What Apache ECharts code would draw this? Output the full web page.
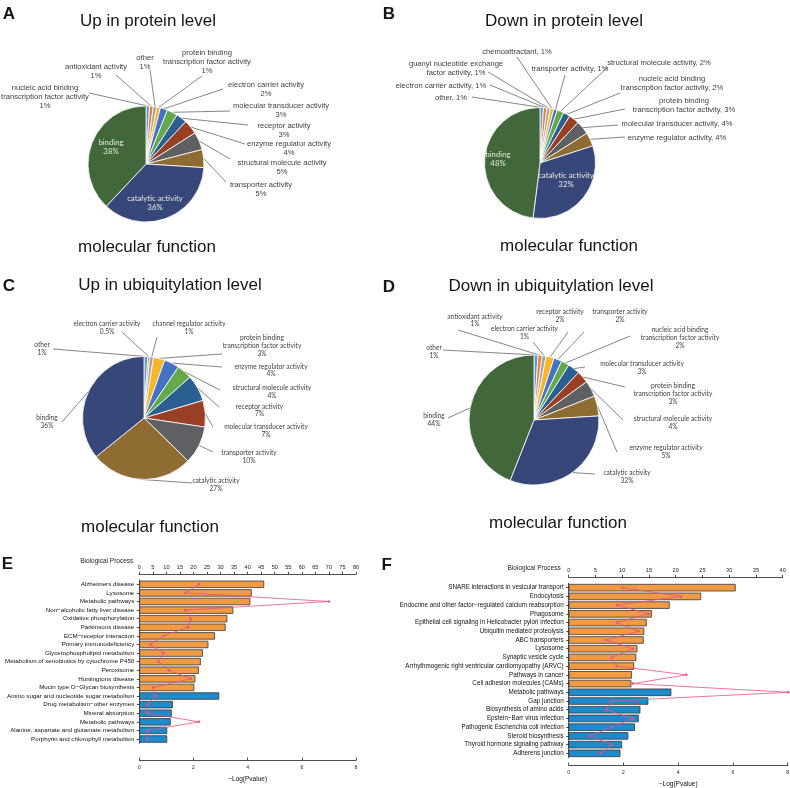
<!DOCTYPE html>
<html><head><meta charset="utf-8">
<script src="https://cdn.jsdelivr.net/npm/echarts@6/dist/echarts.min.js"></script>
<style>html,body{margin:0;padding:0;background:#fff}#c{width:790px;height:788px}</style>
</head><body><div id="c"></div>
<script>
const SANS = 'Liberation Sans, Arial, sans-serif';
const CAL = 'Lato, Carlito, sans-serif';

// ---------- Panel A: Up in protein level ----------
const namesA = ['nucleic acid binding\ntranscription factor activity','antioxidant activity','other','protein binding\ntranscription factor activity','electron carrier activity','molecular transducer activity','receptor activity','enzyme regulator activity','structural molecule activity','transporter activity','catalytic activity','binding'];
const valuesA = [1,1,1,1,2,3,3,4,5,5,36,38];
// ---------- Panel B: Down in protein level ----------
const namesB = ['other','electron carrier activity','guanyl nucleotide exchange\nfactor activity','chemoattractant','transporter activity','structural molecule activity','nucleic acid binding\ntranscription factor activity','protein binding\ntranscription factor activity','molecular transducer activity','enzyme regulator activity','catalytic activity','binding'];
const valuesB = [1,1,1,1,1,2,2,3,4,4,32,48];
// ---------- Panel C: Up in ubiquitylation level ----------
const namesC = ['other','electron carrier activity','channel regulator activity','protein binding\ntranscription factor activity','enzyme regulator activity','structural molecule activity','receptor activity','molecular transducer activity','transporter activity','catalytic activity','binding'];
const valuesC = [1,0.5,1,3,4,4,7,7,10,27,36];
// ---------- Panel D: Down in ubiquitylation level ----------
const namesD = ['other','antioxidant activity','electron carrier activity','receptor activity','transporter activity','nucleic acid binding\ntranscription factor activity','molecular transducer activity','protein binding\ntranscription factor activity','structural molecule activity','enzyme regulator activity','catalytic activity','binding'];
const valuesD = [1,1,1,2,2,2,3,3,4,5,32,44];

// ---------- Panel E ----------
const catsEUp = ['Alzheimers disease','Lysosome','Metabolic pathways','Non\u2212alcoholic fatty liver disease','Oxidative phosphorylation','Parkinsons disease','ECM\u2212receptor interaction','Primary immunodeficiency','Glycerophospholipid metabolism','Metabolism of xenobiotics by cytochrome P450','Peroxisome','Huntingtons disease','Mucin type O\u2212Glycan biosynthesis'];
const logPEUp = [4.61,4.15,4.10,3.47,3.25,3.19,2.79,2.55,2.35,2.27,2.20,2.07,2.03];
const countEUp = [22,17,70,17,19,18,9,4,9,7,11,19,5];
const catsEDown = ['Amino sugar and nucleotide sugar metabolism','Drug metabolism\u2212other enzymes','Mineral absorption','Metabolic pathways','Alanine, aspartate and glutamate metabolism','Porphyrin and chlorophyll metabolism'];
const logPEDown = [2.95,1.24,1.20,1.16,1.03,1.03];
const countEDown = [6,3,3,22,3,3];
const ticksETop = [0,80,5];
const ticksEBottom = [0,8,2];

// ---------- Panel F ----------
const catsFUp = ['SNARE interactions in vesicular transport','Endocytosis','Endocrine and other factor\u2212regulated calcium reabsorption','Phagosome','Epithelial cell signaling in Helicobacter pylori infection','Ubiquitin mediated proteolysis','ABC transporters','Lysosome','Synaptic vesicle cycle','Arrhythmogenic right ventricular cardiomyopathy (ARVC)','Pathways in cancer','Cell adhesion molecules (CAMs)'];
const logPFUp = [6.10,4.84,3.69,3.04,2.85,2.76,2.74,2.51,2.47,2.39,2.31,2.29];
const countFUp = [10,21,9,15,9,13,7,12,8,9,22,12];
const catsFDown = ['Metabolic pathways','Gap junction','Biosynthesis of amino acids','Epstein\u2212Barr virus infection','Pathogenic Escherichia coli infection','Steroid biosynthesis','Thyroid hormone signaling pathway','Adherens junction'];
const logPFDown = [3.75,2.91,2.62,2.56,2.42,2.18,1.95,1.89];
const countFDown = [41,8,7,12,8,4,8,6];
const ticksFTop = [0,40,5];
const ticksFBottom = [0,8,2];

// ---------- styling / layout (not data) ----------
const sliceColors = ['#5b9bd5','#ed7d31','#a5a5a5','#f6b62a','#4472c4','#63a94c','#2b5f91','#983f24','#5f6063','#8e6c32','#38477a','#42673b'];
const upColor = '#f09a43', downColor = '#1e8bcd', lineColor = '#e8508a';

// label spots: [labelX, labelY, lineEndX, lineEndY]; two numbers = label inside slice
const spotsA = [[45,97,89,93],[96,71,116,75],[145,62,150,70],[207,62,202,76],[266,89.5,223,89],[281,110.5,230,111],[284,130,248,125],[289,148,245,144],[282,167,230,159],[261,189,226,182],[155,203],[111,147]];
const spotsB = [[451,98,472,97],[441,86,490,85],[456,68,488,72],[517,52,517,57],[570,69,565,75],[659,63,608,67],[672,83,620,93],[684,105.5,625,109],[677,124,618,125],[677,138,625,137],[566,180],[498,159]];
const spotsC = [[42,349,53,349],[107,328,122,332],[189,328,157,337],[262,346,222,354],[271,370.5,222,367],[272,392,220,390],[259.5,410.5,219,407],[266,431,213,427],[249,457,213,452],[216,485,192,483],[47,422,62,422]];
const spotsD = [[434,352,443,350],[475,320.5,458,330],[524.5,333,533,342],[560,316,568,332],[620,316,584,332],[680,338,630,336],[642,368,585,367],[673,394,625,387],[673,423,623,420],[666,452,617,452],[627,477,595,474],[434,420,448,418]];

function makeLayout(spots) {
  return function (p) {
    const s = spots[p.dataIndex];
    if (!s) return {};
    const out = { x: s[0], y: s[1], align: 'center', verticalAlign: 'middle' };
    if (s.length > 2 && p.labelLinePoints && p.labelLinePoints[0]) {
      const a = p.labelLinePoints[0];
      const b = [s[2], s[3]];
      out.labelLinePoints = [[a[0], a[1]], [(a[0] + b[0]) / 2, (a[1] + b[1]) / 2], b];
    }
    return out;
  };
}

function pieSeries(names, values, center, radius, spots, cfg) {
  const data = names.map((n, i) => {
    const item = { name: n, value: values[i], itemStyle: { color: sliceColors[i] } };
    if (spots[i].length === 2) {
      item.inner = true;
      item.labelLine = { show: false };
      item.label = { color: '#e2e7dc', fontFamily: CAL, fontSize: 7.8, lineHeight: 9.5 };
    }
    return item;
  });
  return {
    type: 'pie', center: center, radius: radius, startAngle: 90, clockwise: true,
    avoidLabelOverlap: false, silent: true, animation: false,
    itemStyle: { borderColor: '#ffffff', borderWidth: 0.8 },
    label: { show: true, position: 'outside', formatter: cfg.formatter, fontFamily: cfg.font, fontSize: cfg.size, lineHeight: cfg.lh, color: '#404040', overflow: 'none' },
    labelLine: { show: true, length: 6, length2: 6, lineStyle: { color: '#505050', width: 0.7 } },
    labelLayout: makeLayout(spots),
    emphasis: { disabled: true },
    data: data
  };
}

const fmtNL = p => p.name + '\n' + p.value + '%';
const fmtComma = p => p.data.inner ? (p.name + '\n' + p.value + '%') : (p.name + ', ' + p.value + '%');

function txt(x, y, text, size, opt) {
  opt = opt || {};
  return { type: 'text', x: x, y: y, silent: true, z: 100,
    style: { text: text, font: (opt.weight || 'normal') + ' ' + size + 'px ' + SANS, fill: opt.color || '#151515',
      textAlign: opt.align || 'center', textVerticalAlign: 'middle' } };
}

function barData(upVals, downVals) {
  return upVals.map(v => ({ value: v, itemStyle: { color: upColor } }))
    .concat(downVals.map(v => ({ value: v, itemStyle: { color: downColor } })));
}
const catsE = catsEUp.concat(catsEDown), catsF = catsFUp.concat(catsFDown);

function valueAxis(grid, pos, ticks, offset, extra) {
  return Object.assign({
    gridIndex: grid, type: 'value', position: pos, min: ticks[0], max: ticks[1], interval: ticks[2], offset: offset,
    axisLine: { show: true, lineStyle: { color: '#222', width: 0.8 } },
    axisTick: { show: true, inside: pos === 'bottom', length: 2.5, lineStyle: { color: '#222', width: 0.8 } },
    axisLabel: { fontSize: pos === 'top' ? 5.6 : 5, color: '#222', fontFamily: SANS, margin: pos === 'top' ? 4 : 5 },
    splitLine: { show: false }
  }, extra || {});
}
function catAxis(grid, cats, visible, fs) {
  return {
    gridIndex: grid, type: 'category', data: cats, inverse: true, show: visible, offset: 1,
    axisLine: { show: true, lineStyle: { color: '#222', width: 0.8 } },
    axisTick: { show: true, alignWithLabel: true, interval: 0, length: 2.5, lineStyle: { color: '#222', width: 0.8 } },
    axisLabel: { interval: 0, fontSize: fs, color: '#111', fontFamily: SANS, margin: 4 },
    splitLine: { show: false }
  };
}
const nameStyle = { name: '\u2212Log(Pvalue)', nameLocation: 'middle', nameGap: 16, nameTextStyle: { fontSize: 6.5, color: '#111', fontFamily: SANS } };
function gridBox(left, top, width, height) {
  return { left: left, top: top, width: width, height: height, containLabel: false, outerBoundsMode: 'none' };
}

const chart = echarts.init(document.getElementById('c'), null, { renderer: 'canvas' });
chart.setOption({
  backgroundColor: '#ffffff',
  animation: false,
  grid: [
    gridBox(139.3, 580, 216.7, 163.3),
    gridBox(139.3, 580, 216.7, 163.3),
    gridBox(568.7, 583.3, 219, 174.4),
    gridBox(568.7, 583.3, 214, 174.4)
  ],
  xAxis: [
    valueAxis(0, 'bottom', ticksEBottom, 16.7, nameStyle),
    valueAxis(1, 'top', ticksETop, 5.7),
    valueAxis(2, 'bottom', ticksFBottom, 7.3, nameStyle),
    valueAxis(3, 'top', ticksFTop, 6)
  ],
  yAxis: [
    catAxis(0, catsE, true, 6.2), catAxis(1, catsE, false, 6.2),
    catAxis(2, catsF, true, 6.3), catAxis(3, catsF, false, 6.3)
  ],
  graphic: [
    txt(9, 14.5, 'A', 17, { weight: 'bold' }), txt(389, 14.5, 'B', 17, { weight: 'bold' }),
    txt(9, 286, 'C', 17, { weight: 'bold' }), txt(389, 287.5, 'D', 17, { weight: 'bold' }),
    txt(7.5, 564, 'E', 17, { weight: 'bold' }), txt(386.7, 565, 'F', 17, { weight: 'bold' }),
    txt(148, 21, 'Up in protein level', 17), txt(564, 21, 'Down in protein level', 17),
    txt(147, 247, 'molecular function', 17), txt(569, 246.5, 'molecular function', 17),
    txt(170, 285.5, 'Up in ubiquitylation level', 17), txt(551, 286.5, 'Down in ubiquitylation level', 17),
    txt(150, 527, 'molecular function', 17), txt(558, 523.5, 'molecular function', 17),
    txt(133.3, 561, 'Biological Process', 6.5, { align: 'right', color: '#222' }),
    txt(560.7, 568.3, 'Biological Process', 6.5, { align: 'right', color: '#222' })
  ],
  series: [
    pieSeries(namesA, valuesA, [146, 164], 58, spotsA, { formatter: fmtNL, font: SANS, size: 7.6, lh: 9 }),
    pieSeries(namesB, valuesB, [540, 163], 55.5, spotsB, { formatter: fmtComma, font: SANS, size: 7.6, lh: 9 }),
    pieSeries(namesC, valuesC, [144, 418], 61.5, spotsC, { formatter: fmtNL, font: CAL, size: 6.6, lh: 7.7 }),
    pieSeries(namesD, valuesD, [534, 420], 65, spotsD, { formatter: fmtNL, font: CAL, size: 6.6, lh: 7.7 }),
    { type: 'bar', xAxisIndex: 0, yAxisIndex: 0, data: barData(logPEUp, logPEDown), barWidth: '86%', silent: true,
      itemStyle: { borderColor: '#3a3a3a', borderWidth: 0.8 } },
    { type: 'line', xAxisIndex: 1, yAxisIndex: 1, data: countEUp.concat(countEDown), symbol: 'circle', symbolSize: 2.5, clip: false, z: 5, silent: true,
      lineStyle: { color: lineColor, width: 0.8 }, itemStyle: { color: lineColor } },
    { type: 'bar', xAxisIndex: 2, yAxisIndex: 2, data: barData(logPFUp, logPFDown), barWidth: '86%', silent: true,
      itemStyle: { borderColor: '#3a3a3a', borderWidth: 0.8 } },
    { type: 'line', xAxisIndex: 3, yAxisIndex: 3, data: countFUp.concat(countFDown), symbol: 'circle', symbolSize: 2.5, clip: false, z: 5, silent: true,
      lineStyle: { color: lineColor, width: 0.8 }, itemStyle: { color: lineColor } }
  ]
});
</script>
</body></html>
